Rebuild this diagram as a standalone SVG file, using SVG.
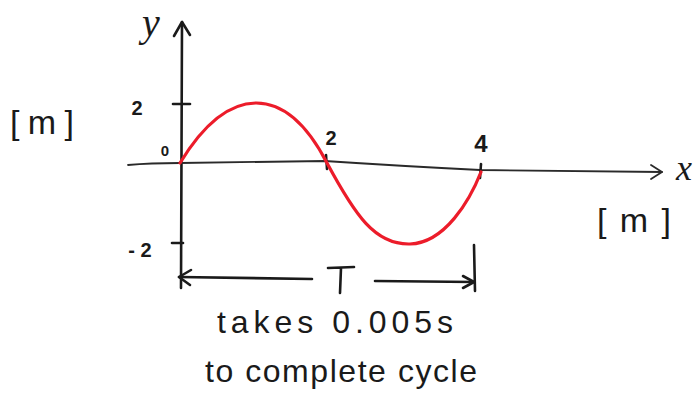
<svg xmlns="http://www.w3.org/2000/svg" width="695" height="402" viewBox="0 0 695 402">
<style>
.ax{fill:none;stroke:#1a1a1a;stroke-width:2.6;stroke-linecap:round;stroke-linejoin:round}
.thin{fill:none;stroke:#2a2a2a;stroke-width:1.8;stroke-linecap:round;stroke-linejoin:round}
.wave{fill:none;stroke:#ec1c2a;stroke-width:3.2;stroke-linecap:round}
.t{font-family:"Liberation Sans","DejaVu Sans",sans-serif;fill:#1a1a1a}
.n{font-family:"Liberation Sans","DejaVu Sans",sans-serif;font-weight:bold;fill:#1a1a1a}
.v{font-family:"Liberation Serif","DejaVu Serif",serif;font-style:italic;fill:#1a1a1a}
</style>
<rect width="695" height="402" fill="#ffffff"/>
<g id="axes">
  <path class="ax" d="M181,288 L182,22"/>
  <path class="ax" d="M174,36 L182,22 L190,35"/>
  <path class="thin" d="M128,165 Q150,163 180,163 L325,161 Q400,166 480,170 L662,172"/>
  <path class="thin" d="M651,165 L662,172 L651,179"/>
  <path class="ax" d="M173,104 L190,104"/>
  <path class="ax" d="M172,243 L183,243"/>
  <path class="ax" d="M326,155 L327,169"/>
  <path class="ax" d="M481,164 L480,178"/>
</g>
<g id="wave">
  <path class="wave" d="M180,163 C228,84 285,82 327,163 C355,215 375,245 410,244 C445,243 470,200 481,172"/>
</g>
<g id="period">
  <path class="ax" d="M179,277 L312,279"/>
  <path class="ax" d="M191,270 L179,277 L190,285"/>
  <path class="ax" d="M375,281 L474,282"/>
  <path class="ax" d="M463,276 L474,282 L463,288"/>
  <path class="ax" d="M474,245 L475,291"/>
  <path class="ax" d="M328,268 L354,267 M341,268 L340,293"/>
</g>
<g id="labels">
  <text class="v" x="151" y="36" font-size="40" text-anchor="middle">y</text>
  <text class="v" x="684" y="180" font-size="36" text-anchor="middle">x</text>
  <text class="t" x="42" y="134" font-size="34" text-anchor="middle" textLength="64" lengthAdjust="spacing">[m]</text>
  <text class="t" x="634" y="232" font-size="34" text-anchor="middle" textLength="74" lengthAdjust="spacing">[m]</text>
  <text class="n" x="137" y="115" font-size="20" text-anchor="middle">2</text>
  <text class="n" x="165" y="156" font-size="15" text-anchor="middle">0</text>
  <text class="n" x="140" y="257" font-size="20" text-anchor="middle">- 2</text>
  <text class="n" x="331" y="145" font-size="20" text-anchor="middle">2</text>
  <text class="n" x="481" y="152" font-size="24" text-anchor="middle">4</text>
  <text class="t" x="335" y="333" font-size="32" text-anchor="middle" textLength="236" lengthAdjust="spacing">takes 0.005s</text>
  <text class="t" x="341" y="382" font-size="32" text-anchor="middle" textLength="272" lengthAdjust="spacing">to complete cycle</text>
</g>
</svg>
